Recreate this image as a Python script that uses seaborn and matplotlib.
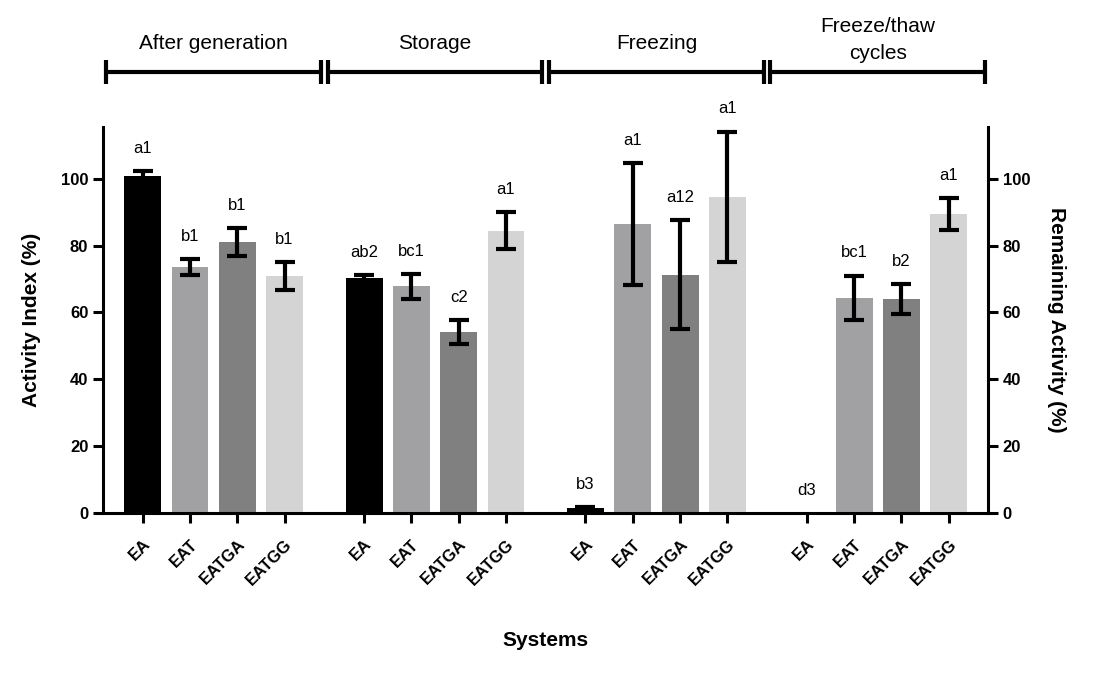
import numpy as np
import pandas as pd
import matplotlib
matplotlib.use("Agg")
import matplotlib.pyplot as plt
import seaborn as sns

# ---- data ----
conditions = ["After generation", "Storage", "Freezing", "Freeze/thaw\ncycles"]
systems = ["EA", "EAT", "EATGA", "EATGG"]
means = [
    [100.7, 73.6, 81.1, 70.8],   # After generation
    [70.2, 67.8, 54.2, 84.5],    # Storage
    [1.5, 86.5, 71.3, 94.6],     # Freezing
    [0.0, 64.3, 64.0, 89.5],     # Freeze/thaw cycles
]
errors = [
    [1.5, 2.4, 4.2, 4.2],
    [0.9, 3.7, 3.6, 5.5],
    [0.3, 18.2, 16.3, 19.5],
    [0.0, 6.7, 4.4, 4.7],
]
letters = [
    ["a1", "b1", "b1", "b1"],
    ["ab2", "bc1", "c2", "a1"],
    ["b3", "a1", "a12", "a1"],
    ["d3", "bc1", "b2", "a1"],
]
colors = {"EA": "#000000", "EAT": "#a0a0a5", "EATGA": "#808080", "EATGG": "#d4d4d4"}

# ---- layout positions (group spacing) ----
group_step = 4.68
rows = []
for g, cond in enumerate(conditions):
    for j, s in enumerate(systems):
        rows.append(dict(cond=cond, system=s, pos=g * group_step + j,
                         value=means[g][j], err=errors[g][j], letter=letters[g][j]))
df = pd.DataFrame(rows)

sns.set_style("ticks")
plt.rcParams["font.family"] = ["Liberation Sans", "DejaVu Sans"]
for k in ["text.color", "axes.labelcolor", "xtick.color", "ytick.color", "axes.edgecolor"]:
    plt.rcParams[k] = "black"

fig = plt.figure(figsize=(11.07, 6.82), dpi=100)
ax = fig.add_axes([0.093, 0.2478, 0.7995, 0.566])

sns.barplot(data=df, x="pos", y="value", hue="system", palette=colors,
            native_scale=True, dodge=False, width=0.78, errorbar=None,
            legend=False, ax=ax, linewidth=0)

de = df[df["err"] > 0]
ax.errorbar(de["pos"], de["value"], yerr=de["err"], fmt="none", ecolor="black",
            elinewidth=3, capsize=7, capthick=3, zorder=5)

for _, r in df.iterrows():
    ax.annotate(r["letter"], (r["pos"], r["value"] + r["err"]), xytext=(0, 11),
                textcoords="offset points", ha="center", va="bottom", fontsize=12)

ax.set_xlim(-0.84, 3 * group_step + 3 + 0.83)
ax.set_ylim(0, 115.5)
ax.set_yticks([0, 20, 40, 60, 80, 100])
ax.set_xticks(df["pos"])
ax.set_xticklabels(df["system"], rotation=45, ha="right", rotation_mode="anchor",
                   fontsize=12, fontweight="bold")
for lab in ax.get_yticklabels():
    lab.set_fontweight("bold")
    lab.set_fontsize(12)
ax.tick_params(axis="both", width=2.2, length=7, direction="out")
ax.tick_params(axis="x", pad=10)
for sp in ["left", "bottom"]:
    ax.spines[sp].set_linewidth(2.2)
ax.spines["top"].set_visible(False)
ax.spines["right"].set_visible(False)

ax.set_ylabel("Activity Index (%)", fontsize=15, fontweight="bold", labelpad=14)
ax.set_xlabel("")
fig.text(0.4925, 1 - 640 / 682, "Systems", ha="center", va="center",
         fontsize=15, fontweight="bold")

ax2 = ax.twinx()
ax2.set_ylim(0, 115.5)
ax2.set_yticks([0, 20, 40, 60, 80, 100])
for lab in ax2.get_yticklabels():
    lab.set_fontweight("bold")
    lab.set_fontsize(12)
ax2.tick_params(axis="y", width=2.2, length=7, direction="out")
ax2.spines["right"].set_linewidth(2.2)
for sp in ["left", "top", "bottom"]:
    ax2.spines[sp].set_visible(False)
ax2.set_ylabel("Remaining Activity (%)", fontsize=15, fontweight="bold",
               rotation=270, labelpad=26)

# ---- condition brackets above ----
y_br = 132
for g, cond in enumerate(conditions):
    c = g * group_step + 1.5
    x0, x1 = c - 2.27, c + 2.27
    ax.plot([x0, x1], [y_br, y_br], color="black", lw=3, clip_on=False,
            solid_capstyle="butt")
    for xe in (x0, x1):
        ax.plot([xe, xe], [y_br - 3.6, y_br + 3.6], color="black", lw=3,
                clip_on=False, solid_capstyle="butt")
    ty = y_br + 9.5 if "\n" in cond else y_br + 8.5
    ax.text(c, ty, cond, ha="center", va="center", fontsize=15,
            linespacing=1.55, clip_on=False)

fig.savefig("out.png", dpi=100)
